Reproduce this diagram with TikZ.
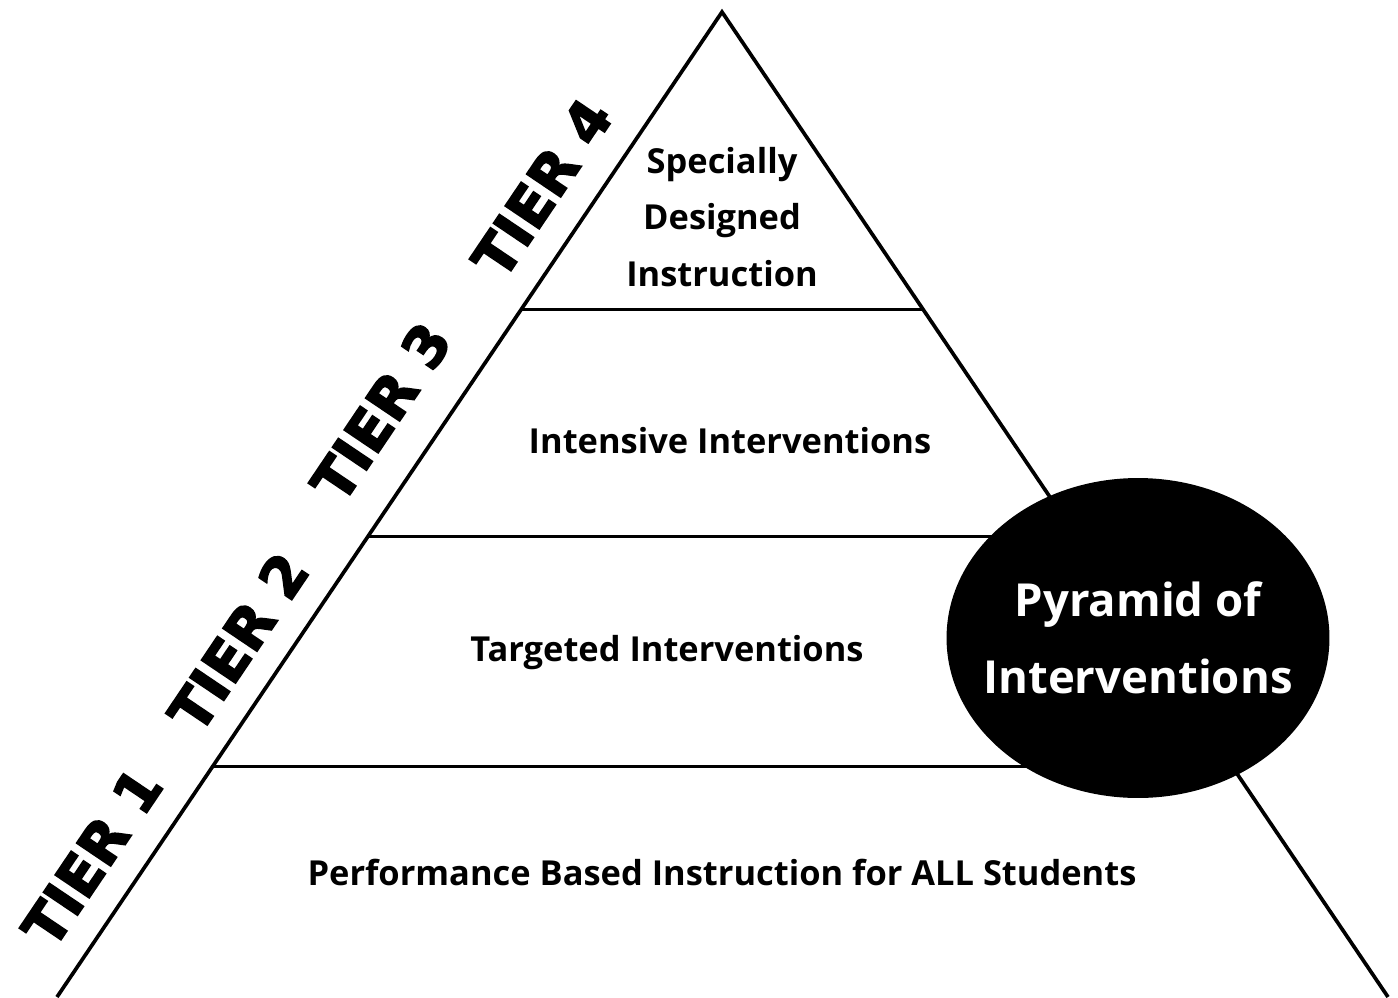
\documentclass[tikz,border=0pt]{standalone}
\usepackage{fontspec}
\setmainfont{Open Sans}
\newfontfamily\tierfont[FakeBold=3]{DejaVu Sans Bold}
\usetikzlibrary{calc, positioning, shapes.geometric}
\tikzset{
  edge/.style={black, line width=2.1pt},
  divider/.style={black, line width=1.7pt},
  level/.style={font=\bfseries\fontsize{19.6}{32}\selectfont, align=center},
  tier/.style={font=\tierfont\fontsize{32}{32}\selectfont, rotate=56},
}

\begin{document}
\begin{tikzpicture}[x=0.02cm, y=-0.02cm]
\useasboundingbox (0,0) rectangle (1398,997);
% outline of the pyramid
\coordinate (apex) at (722,12);
\coordinate (bl) at (57,997);
\coordinate (br) at (1388,997);
\draw[edge] (bl) -- (apex) -- (br);
% dividers between the tiers
\coordinate (l1) at ($(apex)!0.3025!(bl)$);
\coordinate (r1) at ($(apex)!0.3025!(br)$);
\coordinate (l2) at ($(apex)!0.5320!(bl)$);
\coordinate (l3) at ($(apex)!0.7655!(bl)$);
\draw[divider] (l1) -- (r1);
\draw[divider] (l2) -- (l2 -| 1050,0);
\draw[divider] (l3) -- (l3 -| 1050,0);
% level texts
\node[level] (sdi) at (722,217) {Specially\\Designed\\Instruction};
\node[level] (intensive) at (730,441) {Intensive Interventions};
\node[level] (targeted) at (667,653) {Targeted Interventions};
\node[level] (all) at (722,872) {Performance Based Instruction for ALL Students};
% tier labels along the left edge
\node[tier] (t1) at (92,857) {TIER 1};
\node[tier] (t2) at (238,642) {TIER 2};
\node[tier] (t3) at (381,412) {TIER 3};
\node[tier] (t4) at (542,188) {TIER 4};
% title badge
\node[ellipse, fill=black, minimum width=7.66cm, minimum height=6.4cm, inner sep=0pt] (badge) at (1138,638) {};
\node[text=white, align=center, font=\bfseries\fontsize{25.9}{44}\selectfont] (title) at (badge) {Pyramid of\\Interventions};
\end{tikzpicture}
\end{document}
